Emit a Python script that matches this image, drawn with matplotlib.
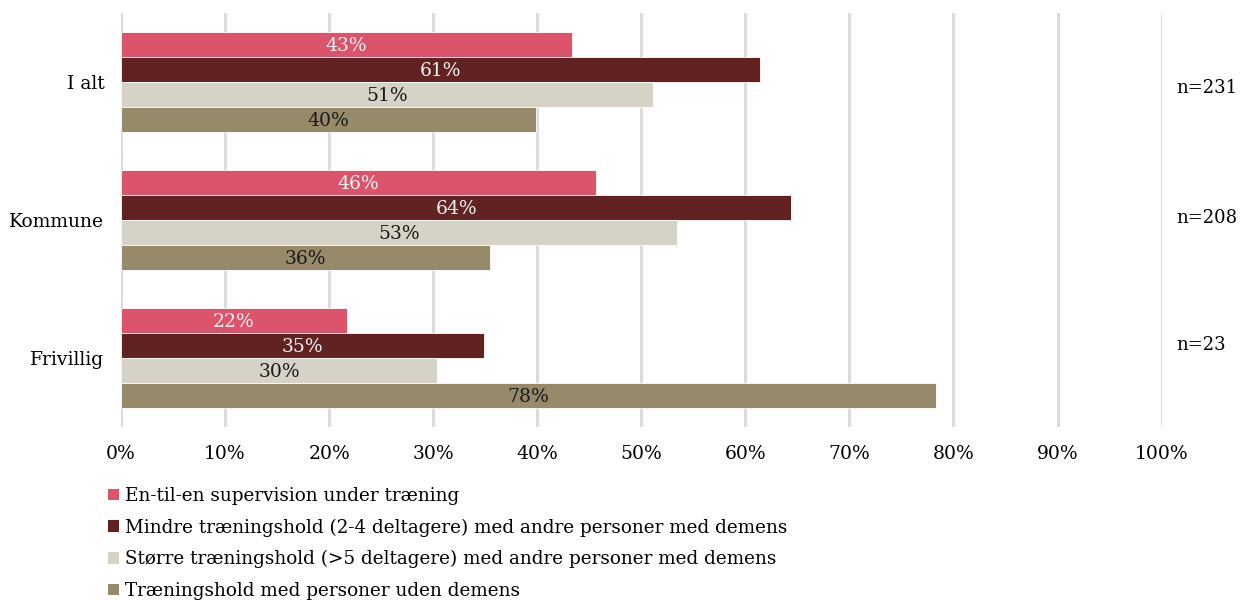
import numpy as np
import matplotlib
matplotlib.use("Agg")
import matplotlib.pyplot as plt
from matplotlib.patches import Patch

plt.rcParams.update({"font.family": "DejaVu Serif", "font.size": 13.5})

categories = ["I alt", "Kommune", "Frivillig"]
series = ["En-til-en supervision under træning",
          "Mindre træningshold (2-4 deltagere) med andre personer med demens",
          "Større træningshold (>5 deltagere) med andre personer med demens",
          "Træningshold med personer uden demens"]
values = [
    [43.3, 45.6, 21.7],
    [61.4, 64.4, 34.9],
    [51.1, 53.4, 30.4],
    [39.9, 35.5, 78.3],
]
n_labels = ["n=231", "n=208", "n=23"]
colors = ["#DC546B", "#612222", "#D6D2C5", "#978A6B"]
text_colors = ["#F2F2F2", "#F2F2F2", "#1A1A1A", "#1A1A1A"]

fig = plt.figure(figsize=(12.41, 6.01), dpi=100)
ax = fig.add_axes([0.0975, 0.29, 0.8385, 0.688])

ypos = np.arange(len(categories))[::-1]  # I alt on top
bh = 0.181
for i, (s, vals) in enumerate(zip(series, values)):
    y = ypos + (1.5 - i) * bh
    bars = ax.barh(y, vals, height=bh, color=colors[i], edgecolor="white",
                   linewidth=0.6, label=s, zorder=2)
    for b, v in zip(bars, vals):
        ax.text(v / 2, b.get_y() + b.get_height() / 2 - 0.01, f"{round(v)}%",
                ha="center", va="center", color=text_colors[i], zorder=3)

ax.set_xlim(0, 100)
ax.set_ylim(-0.5, 2.5)
ax.set_xticks(np.arange(0, 101, 10))
ax.set_xticklabels([f"{t}%" for t in range(0, 101, 10)])
ax.set_yticks(ypos)
ax.set_yticklabels(categories)
ax.tick_params(length=0, pad=12)
ax.tick_params(axis="x", pad=13)
ax.grid(axis="x", color="#D9D9D9", linewidth=2, zorder=0)
ax.set_axisbelow(True)
for sp in ax.spines.values():
    sp.set_visible(False)

# n labels sit a little off each group's centre, as in the original
for n, yfig in zip(n_labels, [0.853, 0.637, 0.426]):
    fig.text(0.948, yfig, n, ha="left", va="center", fontsize=13)

handles = [Patch(facecolor=c, edgecolor="none") for c in colors]
fig.legend(handles, series, loc="upper left", bbox_to_anchor=(0.087, 0.19),
           frameon=False, handlelength=0.6, handleheight=0.6, handletextpad=0.35,
           labelspacing=0.74, fontsize=13.2, borderaxespad=0, borderpad=0)

fig.savefig("out.png", dpi=100)
